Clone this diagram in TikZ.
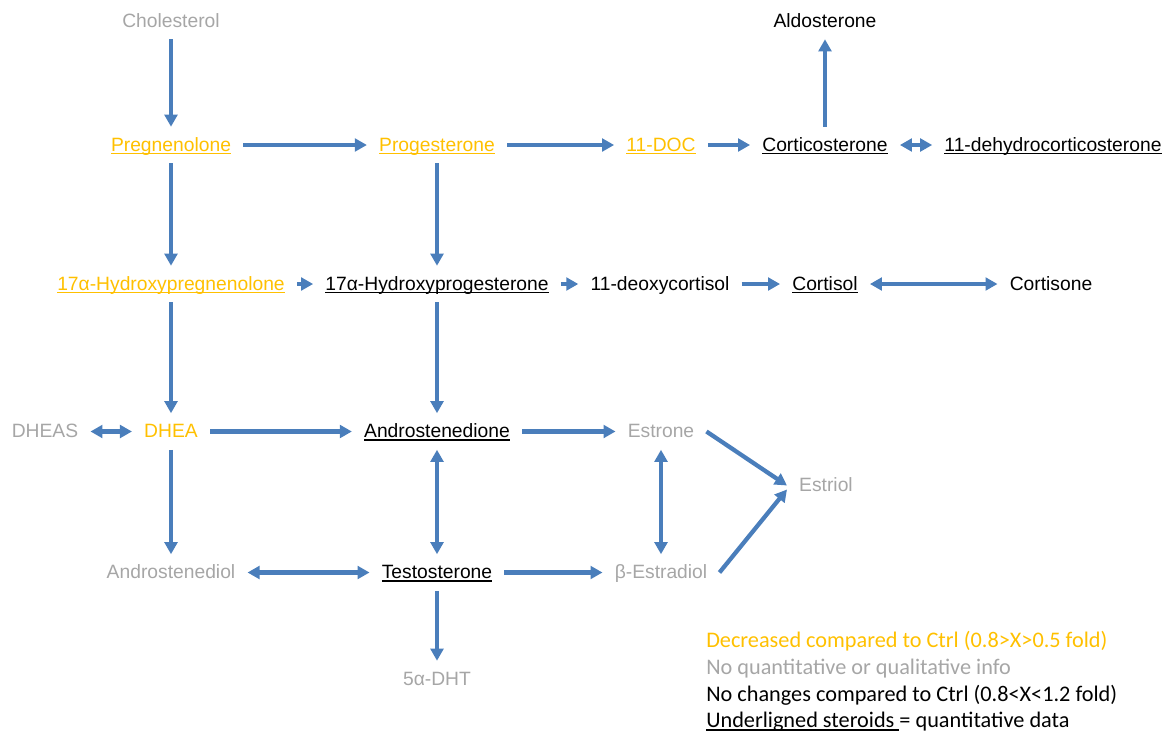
\documentclass[tikz,border=0pt]{standalone}
\usepackage{fontspec}
\setmainfont{Liberation Sans}
\newfontfamily\legendfont{Carlito}
\usepackage{xcolor}
\usetikzlibrary{arrows.meta}
\definecolor{pathblue}{HTML}{4A7EBB}
\definecolor{decr}{HTML}{FFC000}
\definecolor{noinfo}{HTML}{A6A6A6}
\newcommand{\ulsteroid}[1]{\sbox0{#1}\rlap{\rule[-2.4pt]{\wd0}{1.1pt}}\usebox0}

\begin{document}
\begin{tikzpicture}[x=0.75pt,y=-0.75pt,
  every node/.style={font=\fontsize{14.45}{17}\selectfont, text height=12pt, text depth=3pt, inner xsep=9pt, inner ysep=6pt, anchor=base},
  flow/.style={line width=3.2pt, draw=pathblue, -{Triangle[length=9pt,width=9.5pt]}},
  twoway/.style={flow, {Triangle[length=9pt,width=9.5pt]}-{Triangle[length=9pt,width=9.5pt]}},
  legend/.style={font=\legendfont\fontsize{16.7}{19}\selectfont, anchor=base west, inner sep=0pt}]
\useasboundingbox (0,0) rectangle (1168,733);

\node[text=noinfo] (chol) at (171,27) {Cholesterol};
\node (aldo) at (825,27) {Aldosterone};
\node[text=decr] (preg) at (171,151) {\ulsteroid{Pregnenolone}};
\node[text=decr] (prog) at (437,151) {\ulsteroid{Progesterone}};
\node[text=decr] (doc) at (661,151) {\ulsteroid{11-DOC}};
\node (cort) at (825,151) {\ulsteroid{Corticosterone}};
\node (dhc) at (1053,151) {\ulsteroid{11-dehydrocorticosterone}};
\node[text=decr] (ohpreg) at (171,290) {\ulsteroid{17α-Hydroxypregnenolone}};
\node (ohprog) at (437,290) {\ulsteroid{17α-Hydroxyprogesterone}};
\node (deoxy) at (660,290) {11-deoxycortisol};
\node (cortisol) at (825,290) {\ulsteroid{Cortisol}};
\node (cortisone) at (1051,290) {Cortisone};
\node[text=noinfo] (dheas) at (45,437.5) {DHEAS};
\node[text=decr] (dhea) at (171,437.5) {DHEA};
\node (andro) at (437,437.5) {\ulsteroid{Androstenedione}};
\node[text=noinfo] (estrone) at (661,437.5) {Estrone};
\node[text=noinfo] (estriol) at (826,491.5) {Estriol};
\node[text=noinfo] (adiol) at (171,578.5) {Androstenediol};
\node (testo) at (437,578.5) {\ulsteroid{Testosterone}};
\node[text=noinfo] (estradiol) at (661,578.5) {β-Estradiol};
\node[text=noinfo] (dht) at (437,685) {5α-DHT};

\foreach \from/\to in {chol/preg, preg/prog, prog/doc, doc/cort, cort/aldo, preg/ohpreg, prog/ohprog, ohpreg/ohprog, ohprog/deoxy, deoxy/cortisol, ohpreg/dhea, ohprog/andro, dhea/andro, andro/estrone, dhea/adiol, testo/estradiol, testo/dht}
  \draw[flow] (\from) -- (\to);
\foreach \from/\to in {cort/dhc, cortisol/cortisone, dheas/dhea, andro/testo, adiol/testo, estrone/estradiol}
  \draw[twoway] (\from) -- (\to);
\draw[flow] (estrone.east) -- (estriol.west);
\draw[flow] (estradiol.east) -- ([yshift=-3pt]estriol.west);

% legend
\node[legend, text=decr] (leg1) at (706,647) {Decreased compared to Ctrl (0.8>X>0.5 fold)};
\node[legend, text=noinfo] (leg2) at (706,674) {No quantitative or qualitative info};
\node[legend] (leg3) at (706,701) {No changes compared to Ctrl (0.8<X<1.2 fold)};
\node[legend] (leg4) at (706,727.5) {\ulsteroid{Underligned steroids }= quantitative data};
\end{tikzpicture}
\end{document}
